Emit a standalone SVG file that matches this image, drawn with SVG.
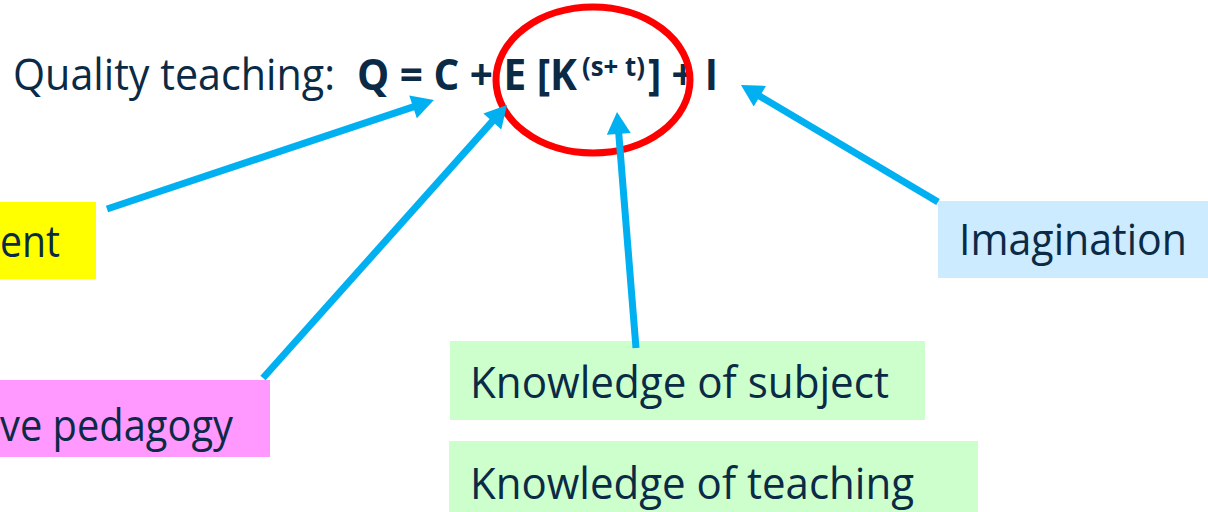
<svg xmlns="http://www.w3.org/2000/svg" width="1208" height="512" viewBox="0 0 1208 512">
<style>
.t{font-family:"Open Sans","Noto Sans","Liberation Sans",sans-serif;font-size:43px;fill:#0B2A45}
.b{font-weight:bold}
.sup{font-size:27px}
.c{stroke:#00B0F0;stroke-width:7;fill:none;marker-end:url(#ah)}
</style>
<defs>
<marker id="ah" markerUnits="userSpaceOnUse" markerWidth="24" markerHeight="24" viewBox="0 0 22 24" refX="1" refY="12" orient="auto">
<path d="M0,0 L22,12 L0,24 z" fill="#00B0F0"/>
</marker>
</defs>
<rect width="1208" height="512" fill="#FFFFFF"/>
<g id="title">
<text class="t" y="90"><tspan x="13" textLength="322" lengthAdjust="spacingAndGlyphs">Quality teaching:</tspan><tspan class="b" x="357" textLength="220" lengthAdjust="spacingAndGlyphs">Q = C + E [K</tspan><tspan class="b sup" x="582" y="76" textLength="63" lengthAdjust="spacingAndGlyphs">(s+ t)</tspan><tspan class="b" x="648" y="90" textLength="70" lengthAdjust="spacingAndGlyphs">] + I</tspan></text>
</g>
<g id="highlight">
<ellipse cx="593" cy="80" rx="97" ry="73" fill="none" stroke="#FF0000" stroke-width="7"/>
</g>
<g id="node-content">
<rect x="0" y="202" width="96" height="77" fill="#FFFF00"/>
<text class="t" x="0" y="257" textLength="60" lengthAdjust="spacingAndGlyphs">ent</text>
</g>
<g id="node-pedagogy">
<rect x="0" y="380" width="270" height="77" fill="#FF99FF"/>
<text class="t" x="0" y="441" textLength="233" lengthAdjust="spacingAndGlyphs">ve pedagogy</text>
</g>
<g id="node-subject">
<rect x="450" y="341" width="475" height="79" fill="#CCFFCC"/>
<text class="t" x="470" y="398" textLength="419" lengthAdjust="spacingAndGlyphs">Knowledge of subject</text>
</g>
<g id="node-teaching">
<rect x="449" y="441" width="529" height="71" fill="#CCFFCC"/>
<text class="t" x="470" y="499" textLength="444" lengthAdjust="spacingAndGlyphs">Knowledge of teaching</text>
</g>
<g id="node-imagination">
<rect x="938" y="201" width="270" height="77" fill="#CCEBFF"/>
<text class="t" x="959" y="255" textLength="228" lengthAdjust="spacingAndGlyphs">Imagination</text>
</g>
<g id="connectors">
<line class="c" x1="107" y1="209" x2="414" y2="106.6"/>
<line class="c" x1="263" y1="378" x2="493" y2="120.7"/>
<line class="c" x1="636" y1="348" x2="618.7" y2="132.9"/>
<line class="c" x1="938" y1="202" x2="759" y2="95.7"/>
</g>
</svg>
